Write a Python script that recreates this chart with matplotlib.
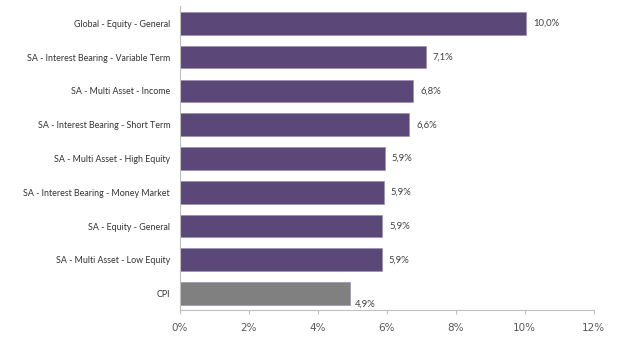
import matplotlib
matplotlib.use('Agg')
from matplotlib import pyplot as plt
from matplotlib.ticker import FuncFormatter

categories = [
    'Global - Equity - General',
    'SA - Interest Bearing - Variable Term',
    'SA - Multi Asset - Income',
    'SA - Interest Bearing - Short Term',
    'SA - Multi Asset - High Equity',
    'SA - Interest Bearing - Money Market',
    'SA - Equity - General',
    'SA - Multi Asset - Low Equity',
    'CPI',
]
values = [10.05, 7.13, 6.77, 6.65, 5.95, 5.92, 5.87, 5.86, 4.93]
labels = ['10,0%', '7,1%', '6,8%', '6,6%', '5,9%', '5,9%', '5,9%', '5,9%', '4,9%']

purple = '#5b4778'
grey = '#808080'
axis_grey = '#bfbfbf'

fig = plt.figure(figsize=(6.33, 3.61), dpi=100)
ax = fig.add_axes([0.284, 0.140, 0.654, 0.842])

ypos = list(range(len(categories)))
colors = [grey if c == 'CPI' else purple for c in categories]
ax.barh(ypos, values, height=0.67, color=colors, edgecolor='#9c8fb3', linewidth=0.5)

for y, v, lab, c in zip(ypos, values, labels, categories):
    if c == 'CPI':
        ax.text(v + 0.15, y + 0.3, lab, va='center', ha='left', fontsize=6.8,
                family='Lato', color='#404040')
    else:
        ax.text(v + 0.2, y, lab, va='center', ha='left', fontsize=6.8,
                family='Lato', color='#404040')

ax.set_ylim(len(categories) - 0.5, -0.5)
ax.set_xlim(0, 12)
ax.set_yticks(ypos)
ax.set_yticklabels(categories, family='Lato', fontsize=6.4, color='#333333')
ax.set_xticks(range(0, 13, 2))
ax.xaxis.set_major_formatter(FuncFormatter(lambda x, p: '%d%%' % x))
for t in ax.get_xticklabels():
    t.set_family('DejaVu Sans')
    t.set_fontsize(7.5)
    t.set_color('#595959')
ax.tick_params(axis='y', length=0, pad=7)
ax.tick_params(axis='x', length=3, color=axis_grey, direction='out', pad=6)

for s in ['top', 'right']:
    ax.spines[s].set_visible(False)
ax.spines['left'].set_color(axis_grey)
ax.spines['bottom'].set_color(axis_grey)

fig.savefig('out.png', dpi=100)
